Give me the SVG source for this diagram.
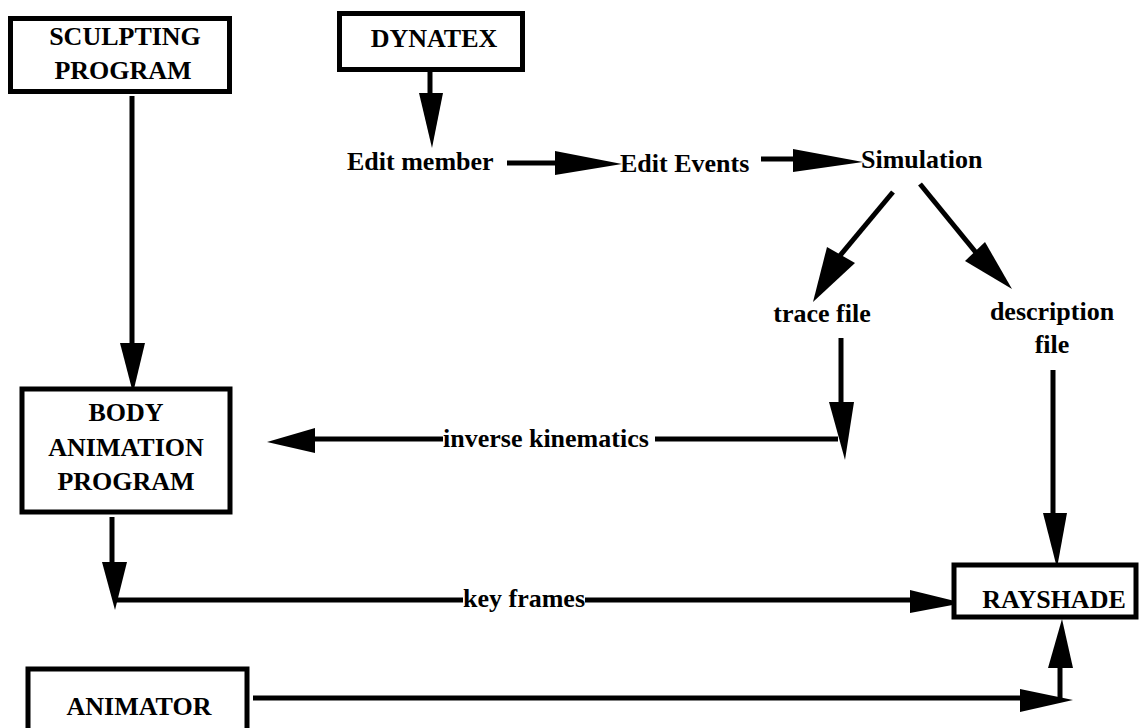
<svg xmlns="http://www.w3.org/2000/svg" width="1141" height="728" viewBox="0 0 1141 728">
<style>
.box{fill:#fff;stroke:#000;stroke-width:5}
text{font-family:'Liberation Serif','Times New Roman',Times,serif;font-weight:700;font-size:26px;fill:#000}
.c{text-anchor:middle}
.ln{stroke:#000;stroke-width:5;fill:none}
.ah{fill:#000;stroke:none}
</style>
<rect width="1141" height="728" fill="#fff"/>
<g id="connectors">
<line class="ln" x1="132" y1="96" x2="132" y2="345"/>
<polygon class="ah" points="120,343 145,343 133,393"/>
<line class="ln" x1="430" y1="70" x2="430" y2="95"/>
<polygon class="ah" points="419,93 443,93 432,148"/>
<line class="ln" x1="507" y1="163" x2="557" y2="163"/>
<polygon class="ah" points="555,151 555,175 622,164"/>
<line class="ln" x1="761" y1="159" x2="795" y2="159"/>
<polygon class="ah" points="793,149 793,172 863,162"/>
<line class="ln" x1="893" y1="192" x2="838" y2="258"/>
<polygon class="ah" points="827,247 855,263 813,302"/>
<line class="ln" x1="920" y1="184" x2="978" y2="255"/>
<polygon class="ah" points="965,261 985,242 1012,289"/>
<line class="ln" x1="841" y1="338" x2="841" y2="405"/>
<polygon class="ah" points="829,402 854,402 845,460"/>
<line class="ln" x1="838" y1="439" x2="655" y2="439"/>
<line class="ln" x1="443" y1="439" x2="312" y2="439"/>
<polygon class="ah" points="315,428 315,453 267,442"/>
<line class="ln" x1="1053" y1="370" x2="1053" y2="516"/>
<polygon class="ah" points="1043,513 1067,513 1057,568"/>
<line class="ln" x1="112" y1="517" x2="112" y2="565"/>
<polygon class="ah" points="102,562 127,562 115,610"/>
<line class="ln" x1="116" y1="600" x2="463" y2="600"/>
<line class="ln" x1="585" y1="600" x2="913" y2="600"/>
<polygon class="ah" points="910,590 910,613 963,603"/>
<line class="ln" x1="253" y1="698" x2="1023" y2="698"/>
<polygon class="ah" points="1020,689 1020,712 1073,700"/>
<line class="ln" x1="1060" y1="698" x2="1060" y2="665"/>
<polygon class="ah" points="1048,668 1073,668 1062,619"/>
</g>
<g id="sculpting">
<rect class="box" x="10.5" y="18.5" width="219" height="73"/>
<text class="c" x="125" y="45">SCULPTING</text>
<text class="c" x="123" y="79">PROGRAM</text>
</g>
<g id="dynatex">
<rect class="box" x="339.5" y="13.5" width="183" height="56"/>
<text class="c" x="434" y="47">DYNATEX</text>
</g>
<g id="edit-member">
<text x="347" y="170">Edit member</text>
</g>
<g id="edit-events">
<text x="620" y="172">Edit Events</text>
</g>
<g id="simulation">
<text x="861" y="168">Simulation</text>
</g>
<g id="trace-file">
<text class="c" x="822" y="322">trace file</text>
</g>
<g id="description-file">
<text class="c" x="1052" y="320">description</text>
<text class="c" x="1052" y="353">file</text>
</g>
<g id="inverse-kinematics">
<text x="443" y="447">inverse kinematics</text>
</g>
<g id="body-animation">
<rect class="box" x="22" y="389" width="208" height="123"/>
<text class="c" x="126" y="421">BODY</text>
<text class="c" x="126" y="456">ANIMATION</text>
<text class="c" x="126" y="490">PROGRAM</text>
</g>
<g id="key-frames">
<text x="463" y="607">key frames</text>
</g>
<g id="rayshade">
<rect class="box" x="954" y="565" width="182" height="52"/>
<text class="c" x="1054" y="608">RAYSHADE</text>
</g>
<g id="animator">
<rect class="box" x="28" y="669" width="219" height="62"/>
<text class="c" x="139" y="715">ANIMATOR</text>
</g>
</svg>
